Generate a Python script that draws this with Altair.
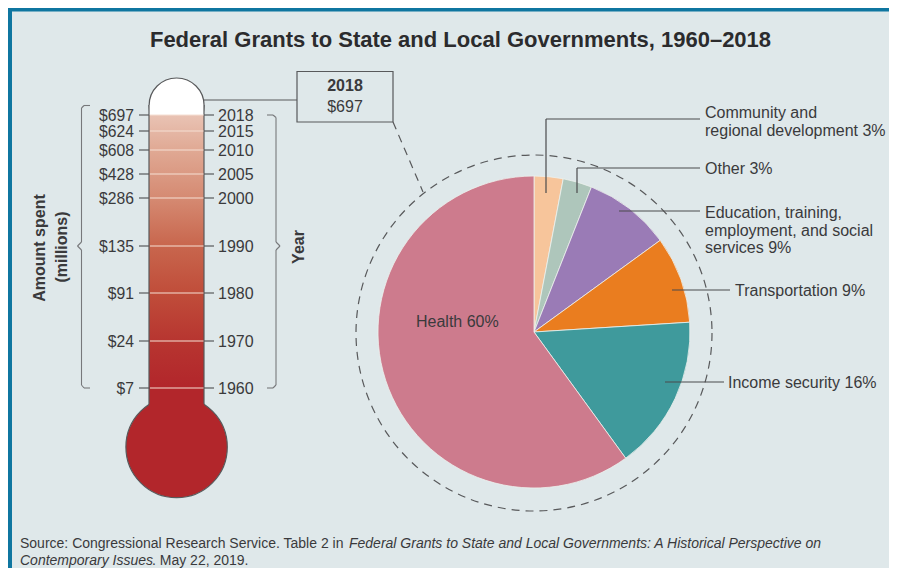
import altair as alt
import pandas as pd

# ---- data ----
years = [1960, 1970, 1980, 1990, 2000, 2005, 2010, 2015, 2018]
amounts = ["$7", "$24", "$91", "$135", "$286", "$428", "$608", "$624", "$697"]
year_pixels = [388, 341, 293, 246, 198, 174, 150, 131, 115]

pie_categories = ["Community and regional development", "Other",
                  "Education, training, employment, and social services",
                  "Transportation", "Income security", "Health"]
pie_values = [3, 3, 9, 9, 16, 60]
pie_colors = ["#f7c59b", "#aec6bb", "#9a7bb6", "#ea7d1f", "#3f9a9c", "#cd7b8d"]

FONT = "Liberation Sans"
BG = "#dfe8ea"
INK = "#3a3a3c"
LINE = "#58595b"
W, H = 881, 560


def X(v):
    return alt.value(v - 8)


def Y(v):
    return alt.value(v - 8)


one = alt.Data(values=[{"a": 1}])
thermo = pd.DataFrame({"year": years, "amount": amounts})
pie = pd.DataFrame({"cat": pie_categories, "value": pie_values,
                    "idx": list(range(len(pie_values)))})
yscale = alt.Scale(domain=years, range=[p - 8 for p in year_pixels])
YEAR = alt.Y("year:Q", scale=yscale, axis=None)


def seg(x1, y1, x2, y2, color=LINE, width=1.2, **kw):
    return alt.Chart(one).mark_rule(color=color, strokeWidth=width, **kw).encode(
        x=X(x1), y=Y(y1), x2=X(x2), y2=Y(y2))


def txt(s, x, y, size=16, align="left", weight="normal", style="normal", angle=0, color=INK, lh=17.5):
    kw = {"angle": angle} if angle else {}
    return alt.Chart(one).mark_text(text=s, align=align, baseline="middle", font=FONT,
                                    fontSize=size, fontWeight=weight, fontStyle=style,
                                    color=color, lineHeight=lh, dy=1, **kw).encode(x=X(x), y=Y(y))


def disc(cx, cy, r, fill, stroke=LINE, sw=1.2, **kw):
    params = dict(size=4 * r * r, opacity=1, stroke=stroke, strokeWidth=sw)
    if fill is None:
        params.update(filled=False)
    else:
        params.update(filled=True, fill=fill)
    params.update(kw)
    return alt.Chart(one).mark_circle(**params).encode(x=X(cx), y=Y(cy))


layers = []
# frame
layers.append(alt.Chart(one).mark_rect(color="#0f76a0").encode(x=X(8), x2=X(897), y=Y(8), y2=Y(11.5)))
layers.append(alt.Chart(one).mark_rect(color="#0f76a0").encode(x=X(8), x2=X(12), y=Y(8), y2=Y(568)))

# title
layers.append(txt("Federal Grants to State and Local Governments, 1960–2018", 460.5, 39,
                  size=22, align="center", weight="bold", color="#2b2b2d"))

# thermometer
layers.append(disc(176.6, 105.5, 27.5, "#ffffff"))
layers.append(alt.Chart(one).mark_rect(color="#ffffff").encode(x=X(149), x2=X(204), y=Y(105), y2=Y(116)))
layers.append(disc(176.6, 447, 50.7, "#b2262b"))
gradient = alt.Gradient(gradient="linear", x1=0, x2=0, y1=0, y2=1, stops=[
    alt.GradientStop(color="#e9c3b4", offset=0),
    alt.GradientStop(color="#e0a994", offset=0.12),
    alt.GradientStop(color="#d58a72", offset=0.286),
    alt.GradientStop(color="#c8664d", offset=0.452),
    alt.GradientStop(color="#c04d3a", offset=0.614),
    alt.GradientStop(color="#b73530", offset=0.78),
    alt.GradientStop(color="#b2262b", offset=0.94),
    alt.GradientStop(color="#b2262b", offset=1),
])
layers.append(alt.Chart(thermo[thermo.year == 2018]).mark_rect(color=gradient).encode(
    x=X(149), x2=X(204), y=YEAR, y2=Y(405)))
layers.append(seg(149, 105, 149, 404))
layers.append(seg(204, 105, 204, 404))
layers.append(alt.Chart(thermo).mark_rule(color="#f6e0d4", strokeWidth=1.2).encode(x=X(150), x2=X(203.5), y=YEAR))
layers.append(alt.Chart(thermo).mark_rule(color=LINE, strokeWidth=1.2).encode(x=X(139), x2=X(149), y=YEAR))
layers.append(alt.Chart(thermo).mark_rule(color=LINE, strokeWidth=1.2).encode(x=X(204), x2=X(214), y=YEAR))
layers.append(alt.Chart(thermo).mark_text(align="right", baseline="middle", font=FONT, fontSize=15.7, color=INK, dy=1).encode(
    x=X(134), y=YEAR, text="amount:N"))
layers.append(alt.Chart(thermo).mark_text(align="left", baseline="middle", font=FONT, fontSize=16, color=INK, dy=1).encode(
    x=X(218), y=YEAR, text="year:N"))

# braces
for s in [(90, 105.5, 84, 105.5), (84, 105.5, 81.5, 108), (81.5, 108, 81.5, 242), (81.5, 242, 77.5, 246),
          (77.5, 246, 81.5, 250), (81.5, 250, 81.5, 385), (81.5, 385, 84, 388), (84, 388, 90, 388),
          (267, 115, 273, 115), (273, 115, 276, 117.5), (276, 117.5, 276, 242), (276, 242, 280, 246),
          (280, 246, 276, 250), (276, 250, 276, 385), (276, 385, 273, 388), (273, 388, 267, 388)]:
    layers.append(seg(*s, color="#77787b", width=1.1))

layers.append(txt("Amount spent", 39, 248, align="center", weight="bold", angle=270))
layers.append(txt("(millions)", 61, 247, align="center", weight="bold", angle=270))
layers.append(txt("Year", 298, 247, align="center", weight="bold", angle=270))

# callout box
layers.append(seg(204, 100, 297, 100))
layers.append(alt.Chart(one).mark_rect(fill=BG, stroke=LINE, strokeWidth=1.2).encode(
    x=X(297), x2=X(393), y=Y(71.5), y2=Y(122)))
layers.append(txt("2018", 345, 85, align="center", weight="bold"))
layers.append(txt("$697", 345, 106, align="center"))
layers.append(seg(393, 122, 423, 192, strokeDash=[8, 6]))

# dashed ring and pie
layers.append(disc(534, 333, 178, None, sw=1.2, strokeDash=[8, 6]))
layers.append(alt.Chart(pie).mark_arc(outerRadius=156, stroke="#eef1ee", strokeWidth=0.8).encode(
    theta=alt.Theta("value:Q", stack=True),
    color=alt.Color("cat:N", scale=alt.Scale(domain=pie_categories, range=pie_colors), legend=None),
    order=alt.Order("idx:Q"),
    x=X(534), y=Y(332)))

# leaders
layers.append(seg(546, 193, 546, 119, color="#4a4a4c"))
layers.append(seg(546, 119, 700, 119, color="#4a4a4c"))
layers.append(seg(577, 193, 577, 168, color="#4a4a4c"))
layers.append(seg(577, 168, 700, 168, color="#4a4a4c"))
layers.append(seg(619, 211, 700, 211, color="#4a4a4c"))
layers.append(seg(672, 290, 730, 290, color="#4a4a4c"))
layers.append(seg(665, 382, 724, 382, color="#4a4a4c"))

# labels
layers.append(txt(["Community and", "regional development 3%"], 705, 112))
layers.append(txt("Other 3%", 705, 168))
layers.append(txt(["Education, training,", "employment, and social", "services 9%"], 705, 212))
layers.append(txt("Transportation 9%", 735, 290))
layers.append(txt("Income security 16%", 728, 382))
layers.append(txt("Health 60%", 416, 321))

# source
layers.append(txt("Source: Congressional Research Service. Table 2 in", 20, 542.5, size=14))
layers.append(txt("Federal Grants to State and Local Governments: A Historical Perspective on", 349, 542.5,
                  size=14, style="italic"))
layers.append(txt("Contemporary Issues", 20, 559.5, size=14, style="italic"))
layers.append(txt(". May 22, 2019.", 152, 559.5, size=14))

chart = alt.layer(*layers).properties(
    width=W, height=H, padding=0, background=BG,
    autosize=alt.AutoSizeParams(type="none"),
).configure_view(stroke=None)

chart.save("out.html", embed_options={"renderer": "svg", "actions": False})
